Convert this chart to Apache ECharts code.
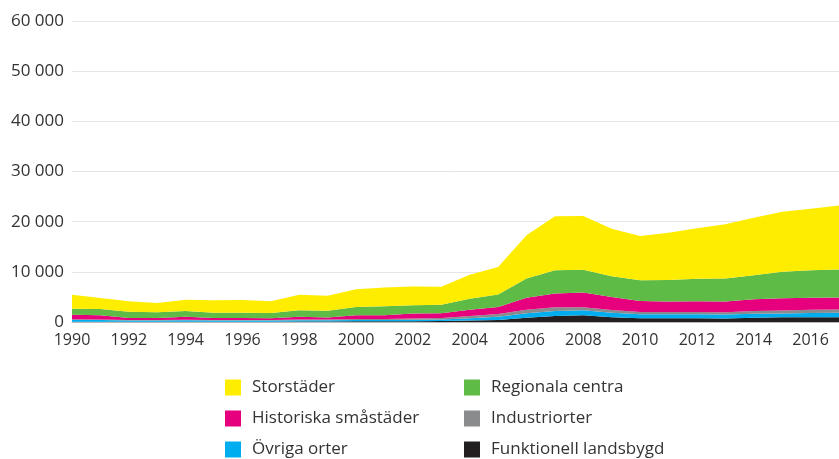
<!DOCTYPE html>
<html>
<head>
<meta charset="utf-8">
<script src="https://cdn.jsdelivr.net/npm/echarts@6/dist/echarts.min.js"></script>
<style>
  html, body { margin: 0; padding: 0; background: #fff; }
  #chart { width: 839px; height: 459px; }
</style>
</head>
<body>
<div id="chart"></div>
<script>
const years = ['1990','1991','1992','1993','1994','1995','1996','1997','1998','1999','2000','2001','2002','2003',
  '2004','2005','2006','2007','2008','2009','2010','2011','2012','2013','2014','2015','2016','2017']

// lagren nerifrån och upp
const landsbygd = [50,50,50,50,60,60,60,60,80,90,130,130,150,180,280,400,870,1200,1330,930,730,730,730,700,870,930,930,950]
const ovriga = [350,330,250,250,270,240,240,240,270,260,270,290,300,320,470,670,880,1000,1020,920,800,800,800,800,780,770,870,870]
const industri = [150,140,120,120,130,120,120,120,130,130,200,200,270,300,450,530,700,750,600,550,470,470,470,450,550,600,650,660]
const historiska = [900,810,380,380,600,380,380,310,580,420,750,730,980,950,1250,1400,2400,2750,2950,2600,2200,2100,2150,2150,2350,2450,2400,2420]
const regionala = [1200,1270,1260,1130,1140,1060,1060,1070,1290,1350,1650,1800,1650,1700,2200,2500,3800,4600,4500,4100,4100,4250,4450,4550,4750,5250,5450,5550]
const storstader = [2800,2200,2090,1870,2250,2490,2540,2350,3100,3000,3550,3750,3750,3600,4750,5450,8650,10800,10750,9500,8850,9450,10100,10850,11500,12000,12250,12750]

const yTicks = [0, 10000, 20000, 30000, 40000, 50000, 60000]

const layers = [
  { name: 'Funktionell landsbygd', data: landsbygd, color: '#231F20' },
  { name: 'Övriga orter', data: ovriga, color: '#00AEEF' },
  { name: 'Industriorter', data: industri, color: '#8A8B8D' },
  { name: 'Historiska småstäder', data: historiska, color: '#E6007E' },
  { name: 'Regionala centra', data: regionala, color: '#5EBB46' },
  { name: 'Storstäder', data: storstader, color: '#FFED00' }
]

const font = '"Open Sans", "Noto Sans", sans-serif'

const legendBase = {
  orient: 'vertical',
  icon: 'rect',
  itemWidth: 16,
  itemHeight: 16,
  itemGap: 14,
  top: 379,
  height: 100,
  padding: 0,
  selectedMode: false,
  textStyle: { color: '#333', fontSize: 17, fontFamily: font, padding: [0, 0, 0, 6] }
}

const option = {
  animation: false,
  color: layers.map(l => l.color),
  grid: { left: 72, right: -8, top: 21, bottom: 137 },
  legend: [
    Object.assign({}, legendBase, { left: 225, data: ['Storstäder', 'Historiska småstäder', 'Övriga orter'] }),
    Object.assign({}, legendBase, { left: 464, data: ['Regionala centra', 'Industriorter', 'Funktionell landsbygd'] })
  ],
  xAxis: {
    type: 'category',
    data: years,
    boundaryGap: false,
    axisLine: { lineStyle: { color: '#bbb' } },
    axisTick: { show: false },
    axisLabel: { interval: 1, color: '#333', fontSize: 16, fontFamily: font, margin: 10 }
  },
  yAxis: {
    type: 'value',
    min: yTicks[0],
    max: yTicks[yTicks.length - 1],
    interval: 10000,
    axisLine: { show: false },
    axisTick: { show: false },
    splitLine: { lineStyle: { color: '#e5e5e5' } },
    axisLabel: {
      color: '#333',
      fontSize: 17,
      fontFamily: font,
      margin: 8,
      formatter: v => String(v).replace(/\B(?=(\d{3})+(?!\d))/g, ' ')
    }
  },
  series: layers.map(l => ({
    name: l.name,
    type: 'line',
    stack: 'total',
    data: l.data,
    symbol: 'none',
    lineStyle: { width: 0 },
    areaStyle: { color: l.color, opacity: 1 },
    itemStyle: { color: l.color }
  }))
}

const chart = echarts.init(document.getElementById('chart'))
chart.setOption(option)
</script>
</body>
</html>
